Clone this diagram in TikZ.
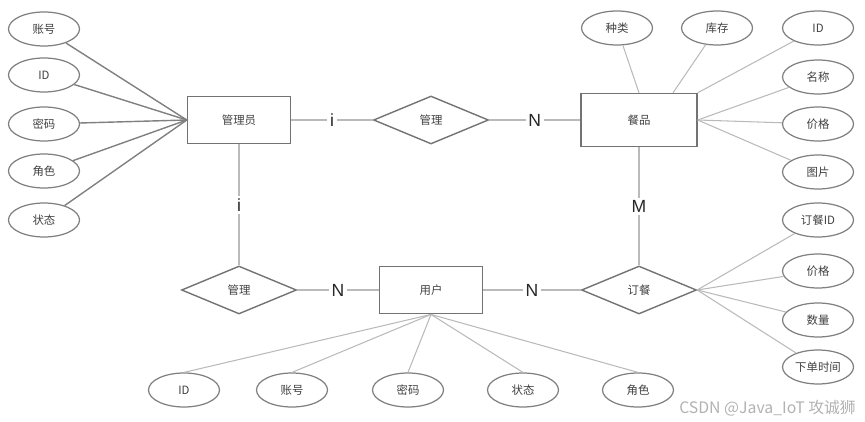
\documentclass[tikz,border=0pt]{standalone}
\usepackage{fontspec}
\setmainfont{Liberation Sans}
\newfontfamily\cjk{Noto Sans CJK SC}
\usetikzlibrary{shapes.geometric}
\begin{document}
\begin{tikzpicture}[x=0.02cm, y=-0.02cm,
  every node/.style={font=\cjk\fontsize{6.5}{7}\selectfont, text=black!75},
  attr/.style={ellipse, draw=black!50, line width=0.7pt, minimum width=1.42cm, minimum height=0.68cm, inner sep=0pt},
  entity/.style={draw=black!55, line width=0.8pt, minimum width=2.06cm, minimum height=0.95cm, inner sep=0pt},
  rel/.style={diamond, draw=black!55, line width=0.8pt, minimum width=2.3cm, minimum height=0.96cm, inner sep=0pt},
  card/.style={fill=white, inner sep=1.5pt, font=\fontsize{10}{12}\selectfont, text=black!85},
  dark/.style={draw=black!50, line width=0.8pt},
  lite/.style={draw=black!27, line width=0.6pt}]
\useasboundingbox (0,0) rectangle (865,422);
\node[entity] (adm) at (239,120) {管理员};
\node[entity, minimum width=2.32cm, minimum height=1.06cm] (food) at (639,120) {餐品};
\node[entity] (user) at (431,290) {用户};
\node[rel] (mng1) at (431,120) {管理};
\node[rel] (mng2) at (239,290) {管理};
\node[rel] (order) at (639,290) {订餐};
\draw[lite] (adm) -- node[card] {i} (mng1);
\draw[lite] (mng1) -- node[card] {N} (food);
\draw[lite] (adm) -- node[card] {i} (mng2);
\draw[lite] (mng2) -- node[card] {N} (user);
\draw[lite] (user) -- node[card] {N} (order);
\draw[lite] (food) -- node[card] {M} (order);
\foreach \n/\y/\t in {a1/29/账号, a2/75/ID, a3/124/密码, a4/171/角色, a5/220/状态} {\node[attr] (\n) at (44,\y) {\t}; \draw[dark] (\n) -- (adm.west);}
\foreach \n/\x/\t in {f1/617/种类, f2/717/库存, f3/818/ID} \node[attr] (\n) at (\x,28) {\t};
\foreach \n/\y/\t in {f4/77/名称, f5/124/价格, f6/172/图片} {\node[attr] (\n) at (818,\y) {\t}; \draw[lite] (\n) -- (food.east);}
\draw[lite] (f1) -- (food.north); \draw[lite] (f2) -- ([xshift=0.68cm]food.north); \draw[lite] (f3) -- (food.north east);
\foreach \n/\y/\t in {o1/220/订餐ID, o2/271/价格, o3/320/数量, o4/367/下单时间} {\node[attr] (\n) at (818,\y) {\t}; \draw[lite] (order.east) -- (\n);}
\foreach \n/\x/\t in {u1/184/ID, u2/292/账号, u3/408/密码, u4/523/状态, u5/638/角色} {\node[attr] (\n) at (\x,390) {\t}; \draw[lite] (user.south) -- (\n.north);}
\node[anchor=east, font=\cjk\fontsize{9}{10}\selectfont, text=black!30] (wmark) at (862,408) {CSDN @Java\_IoT 攻诚狮};
\end{tikzpicture}
\end{document}
